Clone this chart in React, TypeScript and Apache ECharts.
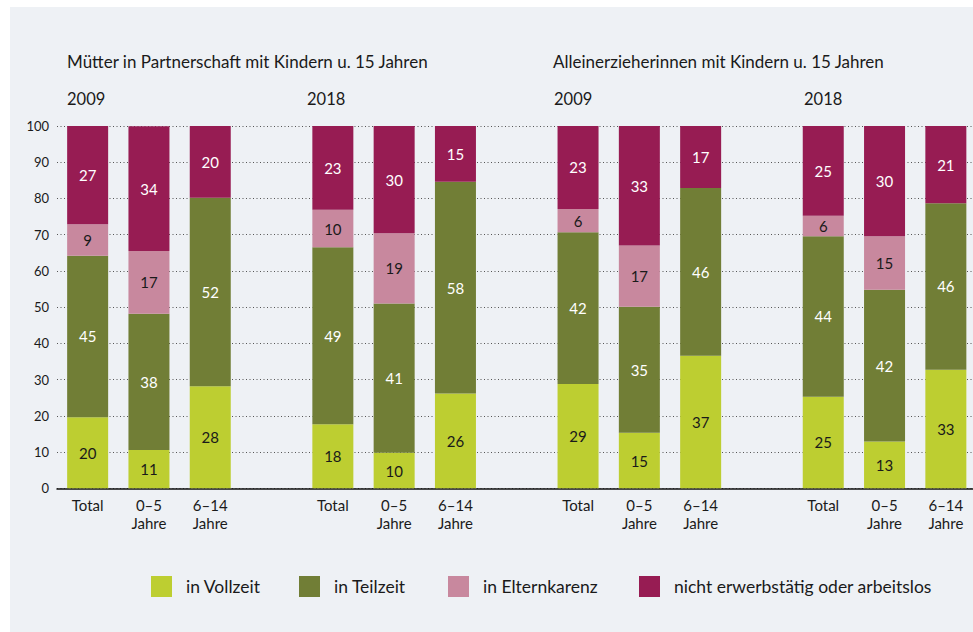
import React, { useEffect, useRef } from "react";
import * as echarts from "echarts";

// Categories (empty strings are the gaps between the four groups)
const categories = [
  "Total", "0–5\nJahre", "6–14\nJahre", "",
  "Total", "0–5\nJahre", "6–14\nJahre", "",
  "Total", "0–5\nJahre", "6–14\nJahre", "",
  "Total", "0–5\nJahre", "6–14\nJahre",
];

const seriesNames = [
  "in Vollzeit",
  "in Teilzeit",
  "in Elternkarenz",
  "nicht erwerbstätig oder arbeitslos",
];

// Values in % (segment heights; labels are rounded)
const vollzeit = [19.6, 10.6, 28.2, null, 17.7, 9.8, 26.2, null, 28.8, 15.3, 36.6, null, 25.3, 12.9, 32.7];
const teilzeit = [44.6, 37.6, 52.0, null, 48.8, 41.2, 58.4, null, 41.9, 34.8, 46.3, null, 44.3, 41.9, 46.0];
const elternkarenz = [8.7, 17.3, 0, null, 10.4, 19.4, 0, null, 6.4, 16.9, 0, null, 5.6, 14.8, 0];
const nichtErwerbstaetig = [27.1, 34.4, 19.8, null, 23.1, 29.6, 15.4, null, 22.9, 33.0, 17.1, null, 24.8, 30.4, 21.3];

const yTicks = { min: 0, max: 100, interval: 10 };

const groupTitles = [
  "Mütter in Partnerschaft mit Kindern u. 15 Jahren",
  "Alleinerzieherinnen mit Kindern u. 15 Jahren",
];
const yearLabels = ["2009", "2018", "2009", "2018"];

const colors = ["#bdce31", "#717e36", "#c8889e", "#971c53"];
const labelColors = ["#1a1a1a", "#ffffff", "#1a1a1a", "#ffffff"];

const FONT = "Lato, 'Noto Sans', sans-serif";
const TEXT = "#1a1a1a";

export default function App() {
  const ref = useRef<HTMLDivElement>(null);

  useEffect(() => {
    if (!ref.current) return;
    const chart = echarts.init(ref.current, undefined, { renderer: "svg" });
    const dataSets = [vollzeit, teilzeit, elternkarenz, nichtErwerbstaetig];

    const series = dataSets.map((d, i) => ({
      name: seriesNames[i],
      type: "bar",
      stack: "total",
      barWidth: 41,
      data: d.map((v) => (v === null ? "-" : v)),
      itemStyle: { color: colors[i] },
      label: {
        show: true,
        position: "inside",
        color: labelColors[i],
        fontFamily: FONT,
        fontSize: 15,
        formatter: (p: any) => {
          const v = Number(p.value);
          return isFinite(v) && v >= 0.5 ? String(Math.round(v)) : "";
        },
      },
    }));

    const legendLefts = [151, 299, 448, 639];
    const legends = seriesNames.map((n, i) => ({
      data: [n],
      left: legendLefts[i],
      top: 576,
      padding: 0,
      itemWidth: 21,
      itemHeight: 21,
      icon: "rect",
      selectedMode: false,
      textStyle: {
        fontFamily: FONT,
        fontSize: 17.5,
        color: TEXT,
        padding: [0, 0, 0, 9],
      },
    }));

    const titleText = (text: string, x: number, y: number, size: number) => ({
      type: "text",
      x,
      y,
      style: {
        text,
        fontFamily: FONT,
        fontSize: size,
        fill: TEXT,
        textVerticalAlign: "middle",
      },
    });

    chart.setOption({
      animation: false,
      color: colors,
      grid: { left: 57, top: 126, width: 919.5, height: 362.3, containLabel: false },
      legend: legends,
      xAxis: {
        type: "category",
        data: categories,
        axisTick: { show: false },
        axisLine: { show: true, lineStyle: { color: "#111111", width: 1.5 } },
        axisLabel: {
          interval: 0,
          color: TEXT,
          fontFamily: FONT,
          fontSize: 15,
          lineHeight: 18,
          margin: 8,
        },
        splitLine: { show: false },
      },
      yAxis: {
        type: "value",
        min: yTicks.min,
        max: yTicks.max,
        interval: yTicks.interval,
        axisLine: { show: false },
        axisTick: { show: false },
        axisLabel: { color: TEXT, fontFamily: FONT, fontSize: 13, margin: 8 },
        splitLine: {
          show: true,
          lineStyle: { color: "#555555", width: 1, type: [1, 2.5] },
        },
      },
      graphic: [
        titleText(groupTitles[0], 67, 61, 17),
        titleText(groupTitles[1], 553, 61, 17),
        titleText(yearLabels[0], 67, 99, 16.5),
        titleText(yearLabels[1], 307, 99, 16.5),
        titleText(yearLabels[2], 554, 99, 16.5),
        titleText(yearLabels[3], 804, 99, 16.5),
      ],
      series,
    });

    return () => chart.dispose();
  }, []);

  return (
    <div style={{ position: "fixed", left: 0, top: 0, width: 973, height: 632, background: "#ffffff", overflow: "hidden" }}>
      <div style={{ position: "absolute", left: 10, top: 7, right: 0, bottom: 0, background: "#eef1f5" }} />
      <div ref={ref} style={{ position: "absolute", left: 0, top: 0, width: 985, height: 632 }} />
    </div>
  );
}
